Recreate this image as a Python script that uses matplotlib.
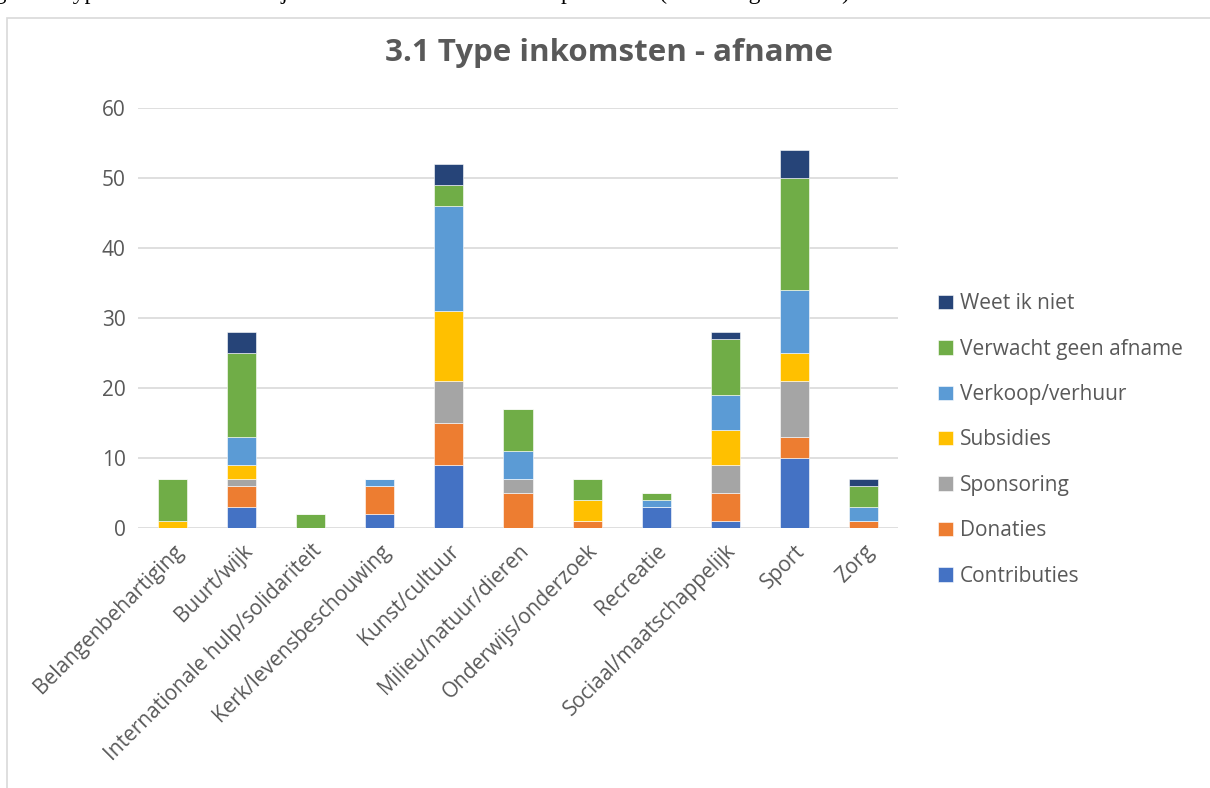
import matplotlib.pyplot as plt
import matplotlib.patches as patches
import numpy as np

# data
sectoren = ['Belangenbehartiging', 'Buurt/wijk', 'Internationale hulp/solidariteit',
            'Kerk/levensbeschouwing', 'Kunst/cultuur', 'Milieu/natuur/dieren',
            'Onderwijs/onderzoek', 'Recreatie', 'Sociaal/maatschappelijk', 'Sport', 'Zorg']
contributies = [0, 3, 0, 2, 9, 0, 0, 3, 1, 10, 0]
donaties = [0, 3, 0, 4, 6, 5, 1, 0, 4, 3, 1]
sponsoring = [0, 1, 0, 0, 6, 2, 0, 0, 4, 8, 0]
subsidies = [1, 2, 0, 0, 10, 0, 3, 0, 5, 4, 0]
verkoop = [0, 4, 0, 1, 15, 4, 0, 1, 5, 9, 2]
verwacht = [6, 12, 2, 0, 3, 6, 3, 1, 8, 16, 3]
weet_niet = [0, 3, 0, 0, 3, 0, 0, 0, 1, 4, 1]

reeksen = [('Contributies', contributies, '#4472C4'),
           ('Donaties', donaties, '#ED7D31'),
           ('Sponsoring', sponsoring, '#A5A5A5'),
           ('Subsidies', subsidies, '#FFC000'),
           ('Verkoop/verhuur', verkoop, '#5B9BD5'),
           ('Verwacht geen afname', verwacht, '#70AD47'),
           ('Weet ik niet', weet_niet, '#264478')]

plt.rcParams['font.family'] = ['Open Sans', 'DejaVu Sans']
grijs = '#595959'

fig = plt.figure(figsize=(12.1, 7.88), dpi=100)
ax = fig.add_axes([138 / 1210, 1 - 528 / 788, 760 / 1210, 420 / 788])

x = np.arange(len(sectoren))
bodem = np.zeros(len(sectoren))
for naam, waarden, kleur in reeksen:
    ax.bar(x, waarden, 0.42, bottom=bodem, color=kleur, label=naam,
           edgecolor='white', linewidth=0.4, zorder=3)
    bodem += np.array(waarden)

ax.set_xlim(-0.5, len(sectoren) - 0.5)
ax.set_ylim(0, 60)
ax.set_yticks(range(0, 61, 10))
ax.grid(axis='y', color='#d9d9d9', linewidth=1.2, zorder=0)
for s in ax.spines.values():
    s.set_visible(False)
ax.tick_params(length=0, labelsize=15, labelcolor=grijs, pad=9)
ax.set_xticks(x)
ax.set_xticklabels(sectoren, rotation=45, ha='right', rotation_mode='anchor')

fig.text(609 / 1210, 1 - 53 / 788, '3.1 Type inkomsten - afname', ha='center', va='center',
         fontsize=22.5, fontweight='bold', color=grijs)

h, l = ax.get_legend_handles_labels()
leg = fig.legend(h[::-1], l[::-1], loc='upper left', bbox_to_anchor=(930 / 1210, 1 - 285 / 788),
                 frameon=False, fontsize=15, handlelength=0.7, handleheight=0.7,
                 handletextpad=0.35, labelspacing=1.17, borderaxespad=0)
for t in leg.get_texts():
    t.set_color(grijs)

# grijze kader van de grafiek
fig.patches.append(patches.Rectangle((7 / 1210, -0.01), 1.0, 1 - 18 / 788 + 0.01,
                                     transform=fig.transFigure, fill=False,
                                     edgecolor='#d9d9d9', linewidth=1.2))

# afgesneden bijschrift boven de grafiek
fig.text(-0.01, 1 - 4 / 788, 'igure 3 Type inkomsten waarbij een afname wordt verwacht per sector (aantal organisaties)',
         family='Liberation Serif', fontsize=17, va='bottom', ha='left', color='black')

fig.savefig('out.png', dpi=100)
